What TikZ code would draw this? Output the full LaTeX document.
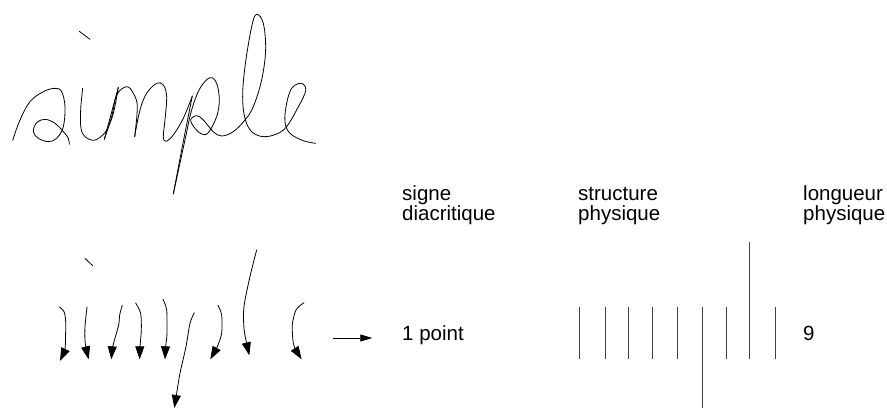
\documentclass[tikz,border=0pt]{standalone}
\usepackage{fontspec}
\setmainfont{Liberation Sans}
\usetikzlibrary{arrows.meta}
\tikzset{
  pen/.style={line width=0.8pt,line join=round,line cap=round},
  pentip/.style={pen,-{Triangle[length=13pt,width=9pt]}},
  bar/.style={line width=0.8pt,black!75},
  lbl/.style={anchor=base west,inner sep=0pt,align=left,font=\fontsize{20.5}{19.8}\selectfont}
}
\begin{document}
\begin{tikzpicture}[x=1pt,y=-1pt]
\useasboundingbox (0,0) rectangle (887,408);
% handwritten word (coordinates in 3x crop units)
\begin{scope}[x=0.3333pt,y=-0.3333pt]
\draw[pen] (238,94) -- (270,118);
\draw[pen] plot[smooth,tension=0.6] coordinates {(38,421)(60,360)(90,305)(130,275)(165,265)(185,275)(195,320)(190,380)(170,415)(145,425)(115,415)(100,395)(110,368)(135,358)(165,370)(190,395)(205,415)(208,433)};
\draw[pen] plot[smooth,tension=0.6] coordinates {(248,265)(242,330)(243,385)(255,410)(280,421)(300,412)(320,390)(340,340)(355,262)};
\draw[pen] (355,262) -- (313,418);
\draw[pen] plot[smooth,tension=0.6] coordinates {(313,418)(335,350)(350,285)(380,260)(400,280)(412,320)(404,410)};
\draw[pen] plot[smooth,tension=0.6] coordinates {(404,410)(420,330)(440,280)(470,250)(490,255)(500,290)(495,360)(490,410)(498,424)(520,405)(550,355)(577,288)};
\draw[pen] plot[smooth,tension=0.3] coordinates {(577,288)(545,450)(520,582)};
\draw[pen] plot[smooth,tension=0.6] coordinates {(520,582)(555,420)(575,330)(600,265)(630,233)(650,250)(658,300)(650,350)(625,398)(605,402)(585,385)(572,360)(590,347)(610,360)(640,395)(665,408)(700,395)(735,360)(760,320)(785,240)(797,150)(790,70)(770,43)(755,80)(735,200)(728,290)(735,355)(755,395)(790,410)(830,402)(860,380)(890,330)(915,280)(915,258)(900,250)(875,265)(860,310)(855,365)(870,400)(910,422)(947,430)};
\end{scope}
% segmented strokes
\begin{scope}[shift={(40,250)},x=0.3333pt,y=-0.3333pt]
\draw[pen] (135,25) -- (158,47);
\draw[pentip] plot[smooth] coordinates {(58,171)(72,185)(77,215)(76,285)(73,303)(60,333)};
\draw[pentip] plot[smooth] coordinates {(141,171)(135,230)(135,270)(138,293)(146,328)};
\draw[pentip] plot[smooth] coordinates {(247,166)(239,195)(236,225)(222,275)(217,295)(214,328)};
\draw[pentip] plot[smooth] coordinates {(287,159)(302,190)(304,240)(300,290)(299,328)};
\draw[pentip] plot[smooth] coordinates {(369,148)(380,180)(381,250)(377,290)(375,328)};
\draw[pentip] plot[smooth] coordinates {(463,188)(450,220)(438,290)(420,370)(410,430)(403,474)};
\draw[pentip] plot[smooth] coordinates {(534,166)(545,195)(545,250)(532,290)(525,303)(511,328)};
\draw[pentip] plot[smooth] coordinates {(650,0)(630,80)(612,170)(612,235)(620,280)(628,316)};
\draw[pentip] plot[smooth] coordinates {(792,158)(768,180)(757,225)(760,280)(768,300)(785,328)};
\coordinate (arrowstart) at (880,264);
\coordinate (arrowend) at (997,264);
\draw[line width=0.7pt,-{Triangle[length=12pt,width=7pt]}] (arrowstart) -- (arrowend);
\end{scope}
% labels
\node[lbl] (diac) at (402,220.5) {signe\\diacritique};
\node[lbl] (struct) at (578,220.5) {structure\\physique};
\node[lbl] (long) at (803,220.5) {longueur\\physique};
\node[lbl] (point) at (402,340) {1 point};
\node[lbl] (nine) at (803,340) {9};
% physical structure
\foreach \x in {579.7,605,628.7,652,677.3,726.3,775.3} \draw[bar] (\x,306.7) -- (\x,359.3);
\draw[bar] (702.7,306.7) -- (702.7,407.7);
\draw[bar] (749.7,242.3) -- (749.7,359.3);
\end{tikzpicture}
\end{document}
